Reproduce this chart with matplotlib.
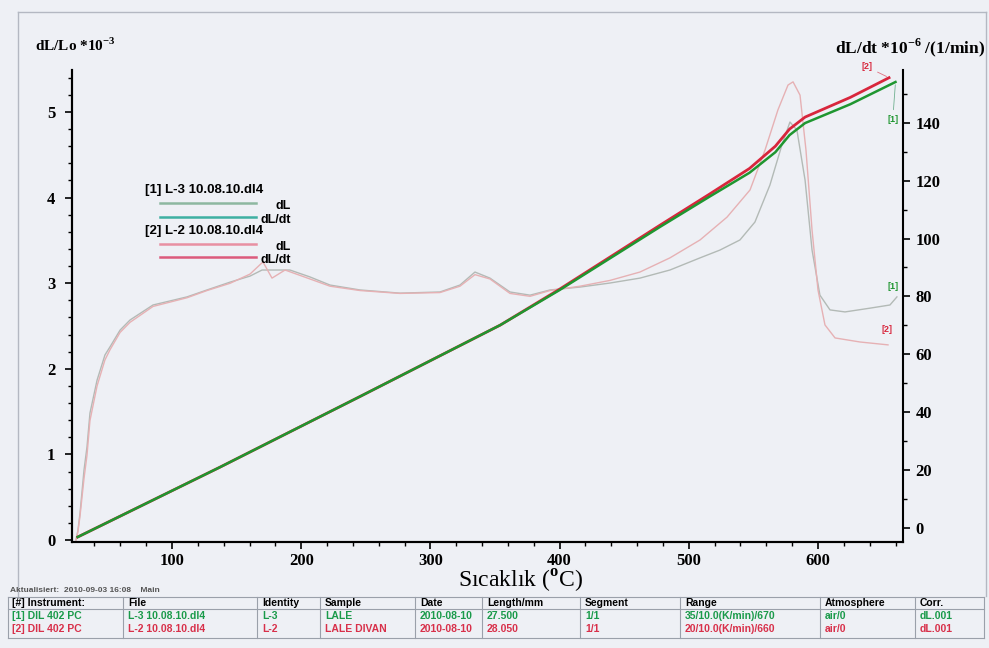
import matplotlib
matplotlib.use('Agg')
import matplotlib.pyplot as plt
from matplotlib.lines import Line2D
from matplotlib.ticker import MultipleLocator

plt.rcParams['font.family'] = 'Liberation Serif'
plt.rcParams['font.weight'] = 'bold'
plt.rcParams['mathtext.fontset'] = 'custom'
plt.rcParams['mathtext.rm'] = 'Liberation Serif'
plt.rcParams['mathtext.bf'] = 'Liberation Serif:bold'

# dL/Lo (x 10^-3), sample [1] L-3 and [2] L-2
dl1_T = [27, 137, 246, 354, 400, 478, 516, 547, 567, 578, 590, 625, 660]
dl1 = [0.035, 0.85, 1.68, 2.51, 2.92, 3.66, 4.01, 4.29, 4.53, 4.73, 4.87, 5.09, 5.35]
dl2_T = [27, 137, 246, 354, 400, 478, 516, 547, 567, 578, 590, 625, 655]
dl2 = [0.035, 0.85, 1.68, 2.51, 2.93, 3.68, 4.04, 4.34, 4.60, 4.80, 4.94, 5.17, 5.40]

# dL/dt (x 10^-6 1/min)
rate1_T = [25.7, 27.2, 28.8, 31.9, 34.2, 36.5, 42.0, 48.1, 52.0, 59.8, 67.5, 85.3,
           111.6, 127.1, 144.9, 160.4, 169.7, 179.7, 191.3, 206.8, 222.3, 245.5,
           276.5, 307.4, 322.9, 334.5, 346.1, 361.6, 377.1, 392.6, 415.8, 439.0,
           462.2, 485.4, 508.7, 524.1, 539.6, 551.2, 562.8, 572.1, 578.3, 583.7,
           590.0, 595.4, 601.5, 609.3, 620.9, 640.2, 655.7, 661.1]
rate1 = [-4.3, -0.9, 5.0, 19.9, 27.9, 39.6, 51.0, 59.7, 62.5, 68.3, 71.8, 77.0,
         79.8, 82.2, 84.9, 87.0, 89.1, 89.1, 89.1, 86.7, 83.9, 82.2,
         81.1, 81.5, 83.9, 88.4, 86.3, 81.5, 80.4, 82.2, 83.2, 84.6,
         86.3, 89.1, 93.3, 96.0, 99.5, 105.7, 118.5, 132.4, 140.3, 137.5,
         120.2, 96.0, 80.4, 75.3, 74.6, 75.9, 77.0, 79.8]
rate2_T = [25.7, 27.2, 28.8, 31.9, 34.2, 36.5, 42.0, 48.1, 52.0, 59.8, 67.5, 85.3,
           111.6, 127.1, 144.9, 160.4, 170.4, 177.4, 187.5, 206.8, 222.3, 245.5,
           276.5, 307.4, 322.9, 334.5, 346.1, 361.6, 377.1, 392.6, 415.8, 439.0,
           462.2, 485.4, 508.7, 529.6, 547.4, 559.0, 569.0, 576.8, 580.7, 586.1,
           590.7, 595.4, 600.0, 605.4, 613.2, 632.5, 654.2]
rate2 = [-4.3, -1.5, 4.0, 17.0, 25.0, 37.0, 49.0, 58.0, 61.5, 67.5, 71.0, 76.5,
         79.5, 82.0, 84.5, 87.7, 91.9, 86.3, 89.1, 86.0, 83.5, 82.0,
         81.0, 81.3, 83.5, 87.5, 86.0, 81.0, 80.0, 82.0, 83.5, 85.5,
         88.4, 93.3, 99.5, 107.4, 116.8, 130.6, 144.5, 153.1, 154.2, 149.6,
         130.6, 102.9, 82.2, 70.1, 65.6, 64.2, 63.2]

x_ticks = [100, 200, 300, 400, 500, 600]
left_ticks = [0, 1, 2, 3, 4, 5]
right_ticks = [0, 20, 40, 60, 80, 100, 120, 140]

table_cols = ['[#] Instrument:', 'File', 'Identity', 'Sample', 'Date', 'Length/mm',
              'Segment', 'Range', 'Atmosphere', 'Corr.']
row1 = ['[1] DIL 402 PC', 'L-3 10.08.10.dl4', 'L-3', 'LALE', '2010-08-10', '27.500',
        '1/1', '35/10.0(K/min)/670', 'air/0', 'dL.001']
row2 = ['[2] DIL 402 PC', 'L-2 10.08.10.dl4', 'L-2', 'LALE DIVAN', '2010-08-10', '28.050',
        '1/1', '20/10.0(K/min)/660', 'air/0', 'dL.001']
col_x = [12, 128, 262, 325, 420, 487, 585, 685, 825, 920]

GREEN = '#1f9630'
RED = '#d8263c'
W, H = 989, 648

fig = plt.figure(figsize=(9.89, 6.48), dpi=100, facecolor='#eef0f5')
ax = fig.add_axes([72 / W, 1 - 542 / H, 831 / W, 472 / H])
ax2 = ax.twinx()
ax.set_zorder(ax2.get_zorder() + 1)
ax.patch.set_visible(False)
ax2.patch.set_visible(False)

# derivative curves (right axis)
ax2.plot(rate1_T, rate1, color='#b3bab6', lw=1.0)
ax2.plot(rate2_T, rate2, color='#e6b1b4', lw=1.0)

# relative expansion (left axis)
ax.plot(dl2_T, dl2, color=RED, lw=2.0)
ax.plot(dl1_T, dl1, color=GREEN, lw=1.8)

ax.set_xlim(22.6, 665.8)
ax.set_ylim(-0.023, 5.49)
ax2.set_ylim(-5.0, 158.3)

ax.set_xticks(x_ticks)
ax.xaxis.set_minor_locator(MultipleLocator(20))
ax.set_yticks(left_ticks)
ax.yaxis.set_minor_locator(MultipleLocator(0.2))
ax2.set_yticks(right_ticks)
ax2.yaxis.set_minor_locator(MultipleLocator(10))

for a in (ax, ax2):
    for s in a.spines.values():
        s.set_linewidth(1.5)
    a.spines['top'].set_visible(False)
    a.tick_params(which='major', direction='out', length=5, width=1.2, labelsize=12)
    a.tick_params(which='minor', direction='out', length=3, width=1.0)
ax.spines['right'].set_visible(False)
ax.tick_params(axis='y', pad=7)
ax.tick_params(axis='x', pad=3)
ax2.tick_params(axis='y', pad=4)

# curve end labels
ax.annotate('[2]', xy=(dl2_T[-1], dl2[-1]), xytext=(-20, 6), textcoords='offset points',
            color=RED, fontsize=6.5, family='Liberation Sans',
            arrowprops=dict(arrowstyle='-', color='#e07080', lw=0.6))
ax.annotate('[1]', xy=(dl1_T[-1], dl1[-1]), xytext=(-2, -29), textcoords='offset points',
            color=GREEN, fontsize=6.5, family='Liberation Sans', ha='center',
            arrowprops=dict(arrowstyle='-', color='#70b090', lw=0.6))
ax2.annotate('[1]', xy=(rate1_T[-1], rate1[-1]), xytext=(-3, 6), textcoords='offset points',
             color=GREEN, fontsize=6.5, family='Liberation Sans', ha='center')
ax2.annotate('[2]', xy=(rate2_T[-1], rate2[-1]), xytext=(-1, 9), textcoords='offset points',
             color=RED, fontsize=6.5, family='Liberation Sans', ha='center')

# legend block
def ax_xy(px, py):
    return (px - 72) / 831, (542 - py) / 472

legend_rows = [
    ('head', '[1] L-3 10.08.10.dl4', None, 190),
    ('line', 'dL', '#8db8a0', 203),
    ('line', 'dL/dt', '#3eb0a2', 217),
    ('head', '[2] L-2 10.08.10.dl4', None, 231),
    ('line', 'dL', '#e890a2', 244),
    ('line', 'dL/dt', '#dc5a7c', 257),
]
for kind, label, col, py in legend_rows:
    if kind == 'head':
        x0, y0 = ax_xy(145, py)
        ax.text(x0, y0, label, transform=ax.transAxes, fontsize=9.5,
                family='Liberation Sans', va='center')
    else:
        xa, y0 = ax_xy(160, py)
        xb, _ = ax_xy(256, py)
        ax.add_line(Line2D([xa, xb], [y0, y0], transform=ax.transAxes, color=col, lw=1.8))
        xt, yt = ax_xy(291, py + 3)
        ax.text(xt, yt, label, transform=ax.transAxes, fontsize=9,
                family='Liberation Sans', ha='right', va='center')

# axis titles
fig.text(35 / W, 1 - 45 / H, r'dL/Lo *10$^{\mathbf{-3}}$', fontsize=11, va='center')
fig.text(985 / W, 1 - 48 / H, r'dL/dt *10$^{\mathbf{-6}}$ /(1/min)', fontsize=12.5,
         va='center', ha='right')
fig.text(521 / W, 1 - 581 / H, r'Sıcaklık ($^{\rm o}$C)', fontsize=17,
         fontweight='normal', ha='center', va='center')

# frame around the plot region
frame = dict(color='#b4b8c2', lw=1.0)
fig.add_artist(Line2D([18 / W, 18 / W], [1 - 12 / H, 1 - 596 / H], **frame))
fig.add_artist(Line2D([18 / W, 986 / W], [1 - 12 / H, 1 - 12 / H], **frame))
fig.add_artist(Line2D([986 / W, 986 / W], [1 - 12 / H, 1 - 596 / H], **frame))

# measurement info table
fig.text(10 / W, 1 - 591 / H, 'Aktualisiert:  2010-09-03 16:08    Main', fontsize=6,
         family='Liberation Sans', color='#555', va='center')
tab = dict(color='#9aa0aa', lw=0.8)
for py in (597, 609, 638):
    fig.add_artist(Line2D([8 / W, 984 / W], [1 - py / H, 1 - py / H], **tab))
for px in [8] + [c - 5 for c in col_x[1:]] + [984]:
    fig.add_artist(Line2D([px / W, px / W], [1 - 597 / H, 1 - 638 / H], **tab))
for cx, h, r1, r2 in zip(col_x, table_cols, row1, row2):
    fig.text(cx / W, 1 - 603 / H, h, fontsize=7.5, family='Liberation Sans', va='center')
    fig.text(cx / W, 1 - 616 / H, r1, fontsize=7.5, family='Liberation Sans',
             color='#1a9a4a', va='center')
    fig.text(cx / W, 1 - 629 / H, r2, fontsize=7.5, family='Liberation Sans',
             color='#d8304a', va='center')

fig.savefig('out.png', dpi=100, facecolor=fig.get_facecolor())
